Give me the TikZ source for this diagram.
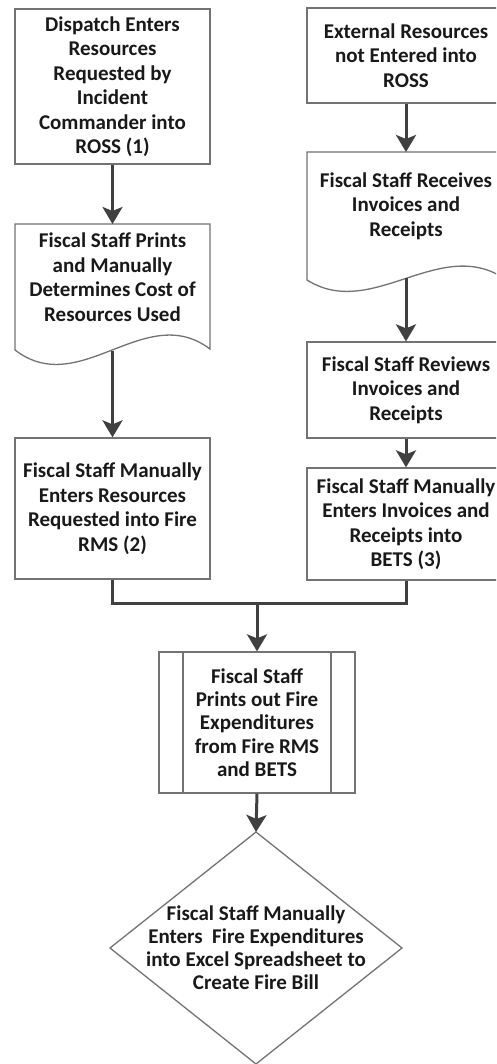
\documentclass[tikz,border=0pt]{standalone}
\usepackage{fontspec}
\setmainfont{Carlito}
\usetikzlibrary{arrows.meta}
\begin{document}
\begin{tikzpicture}[x=1pt,y=-1pt,
  box/.style={draw=black!55, line width=1.3pt, fill=white, inner sep=0pt, align=center,
    font=\fontsize{21}{24.5}\selectfont\bfseries, text=black!90},
  txt/.style={align=center, inner sep=0pt, font=\fontsize{21}{24.5}\selectfont\bfseries, text=black!90},
  shapeline/.style={draw=black!55, line width=1.3pt, fill=white},
  conn/.style={draw=black!75, line width=3pt},
  arr/.style={conn, -{Stealth[length=17pt,width=20pt,inset=4pt]}}]
\useasboundingbox (0,0) rectangle (496,1064);
\begin{scope}
\clip (0,0) rectangle (496,1064);

% left column
\node[box, minimum width=195pt, minimum height=155pt] (b1) at (112.5,86.5)
  {Dispatch Enters\\Resources\\Requested by\\Incident\\Commander into\\ROSS (1)};

\path[shapeline] (15,224) -- (210,224) -- (210,349)
  .. controls (145,300) and (80,400) .. (15,350) -- cycle;
\node[txt] (b2) at (112.5,277) {Fiscal Staff Prints\\and Manually\\Determines Cost of\\Resources Used};
\coordinate (b2s) at (112.5,351);

\node[box, minimum width=195pt, minimum height=141pt] (b3) at (112.5,508.5)
  {Fiscal Staff Manually\\Enters Resources\\Requested into Fire\\RMS (2)};

% right column
\node[box, minimum width=198pt, minimum height=95pt] (r1) at (406,55.5)
  {External Resources\\not Entered into\\ROSS};

\path[shapeline] (307,152) -- (505,152) -- (505,279)
  .. controls (440,235) and (372,321) .. (307,280) -- cycle;
\node[txt] (r2) at (406,206) {Fiscal Staff Receives\\Invoices and\\Receipts};
\coordinate (r2s) at (406,278);

\node[box, minimum width=198pt, minimum height=96pt] (r3) at (406,390)
  {Fiscal Staff Reviews\\Invoices and\\Receipts};

\node[box, minimum width=198pt, minimum height=112pt] (r4) at (406,524)
  {Fiscal Staff Manually\\Enters Invoices and\\Receipts into\\BETS (3)};

% merge
\node[box, minimum width=196pt, minimum height=141pt,
  font=\fontsize{21}{23.2}\selectfont\bfseries] (m) at (257,722.5)
  {Fiscal Staff\\Prints out Fire\\Expenditures\\from Fire RMS\\and BETS};
\draw[draw=black!55, line width=1.3pt] (183,652) -- (183,793) (331,652) -- (331,793);

\path[shapeline] (256,832) -- (402,948) -- (256,1064) -- (110,948) -- cycle;
\coordinate (dtop) at (256,832);
\node[txt, font=\fontsize{21}{23}\selectfont\bfseries] (d) at (256,948)
  {Fiscal Staff Manually\\Enters~ Fire Expenditures\\into Excel Spreadsheet to\\Create Fire Bill};

% connectors
\draw[arr] (b1.south) -- (b1.south |- 0,224);
\draw[arr] (b2s) -- (b3.north);
\draw[arr] (r1.south) -- (r1.south |- 0,152);
\draw[arr] (r2s) -- (r3.north);
\draw[arr] (r3.south) -- (r4.north);
\coordinate (j) at (257,603);
\draw[conn] (b3.south) |- (j) -| (r4.south);
\draw[arr] (j) -- (m.north);
\draw[arr] (m.south) -- (dtop);
\end{scope}
\end{tikzpicture}
\end{document}
